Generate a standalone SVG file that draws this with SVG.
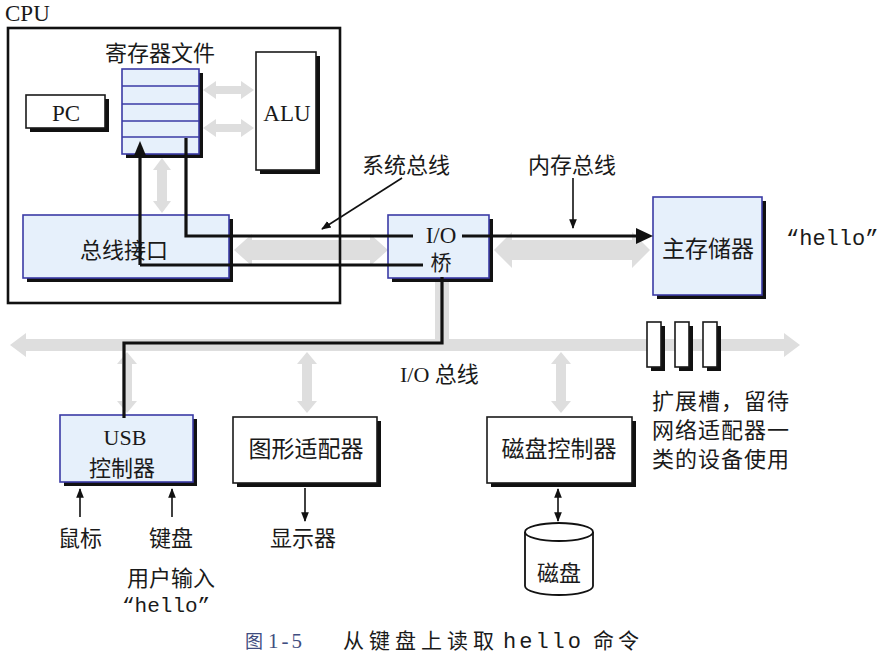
<svg xmlns="http://www.w3.org/2000/svg" width="889" height="664" viewBox="0 0 889 664">
<defs>
<style>
.cn{font-family:"Noto Sans CJK SC","Noto Sans",sans-serif;font-size:22px;fill:#1a1a1a;text-anchor:middle}
.lat{font-family:"Liberation Serif","DejaVu Serif",serif;font-size:23px;fill:#1a1a1a;text-anchor:middle}
.mono{font-family:"Liberation Mono","DejaVu Sans Mono",monospace;font-size:22px;fill:#1a1a1a}
.blue{fill:#e6f0fb;stroke:#3b3ba6;stroke-width:1.6}
.white{fill:#ffffff;stroke:#1a1a1a;stroke-width:1.6}
.shadow{fill:#111}
.gray{fill:#dedede;stroke:none}
.bl{fill:none;stroke:#111;stroke-width:3.2}
.thin{fill:none;stroke:#111;stroke-width:1.6}
</style>
<marker id="ahs" viewBox="0 0 10 10" refX="9" refY="5" markerWidth="6" markerHeight="6" orient="auto-start-reverse" markerUnits="strokeWidth">
<path d="M0,1 L10,5 L0,9 z" fill="#111"/>
</marker>
</defs>
<rect width="889" height="664" fill="#ffffff"/>

<!-- faded gray buses -->
<g id="gray-buses">
<polygon class="gray" points="203,90 216,81 216,86 241,86 241,81 254,90 241,99 241,94 216,94 216,99"/>
<polygon class="gray" points="203,128 216,119 216,124 241,124 241,119 254,128 241,137 241,132 216,132 216,137"/>
<polygon class="gray" points="162,158 171,170 167,170 167,201 171,201 162,213 153,201 157,201 157,170 153,170"/>
<polygon class="gray" points="234,250 252,234 252,240 370,240 370,234 388,250 370,266 370,260 252,260 252,266"/>
<polygon class="gray" points="494,250 512,232 512,240 632,240 632,232 650,250 632,268 632,260 512,260 512,268"/>
<polygon class="gray" points="10,345 26,333 26,339 784,339 784,333 800,345 784,357 784,351 26,351 26,357"/>
<rect class="gray" x="435" y="280" width="14" height="60"/>
<polygon class="gray" points="127,352 137,364 132,364 132,401 137,401 127,413 117,401 122,401 122,364 117,364"/>
<polygon class="gray" points="307,352 317,364 312,364 312,401 317,401 307,413 297,401 302,401 302,364 297,364"/>
<polygon class="gray" points="561,352 571,364 566,364 566,401 571,401 561,413 551,401 556,401 556,364 551,364"/>
</g>

<!-- CPU -->
<g id="cpu">
<text class="lat" x="5" y="21" style="text-anchor:start">CPU</text>
<rect x="8" y="28" width="332" height="275" fill="none" stroke="#111" stroke-width="2.6"/>
</g>

<g id="regfile">
<text class="cn" x="160" y="61">寄存器文件</text>
<rect class="shadow" x="126" y="73" width="77" height="85"/>
<rect class="blue" x="122" y="69" width="77" height="85"/>
<path d="M122,86 H199 M122,104 H199 M122,121 H199 M122,137 H199" stroke="#3b3ba6" stroke-width="1.6"/>
</g>

<g id="pc">
<rect class="shadow" x="30" y="99" width="79" height="33"/>
<rect class="white" x="26" y="95" width="79" height="33"/>
<text class="lat" x="66" y="121">PC</text>
</g>

<g id="alu">
<rect class="shadow" x="260" y="56" width="60" height="118"/>
<rect class="white" x="256" y="52" width="60" height="118"/>
<text class="lat" x="287" y="121">ALU</text>
</g>

<g id="bus-interface">
<rect class="shadow" x="27" y="219" width="206" height="63"/>
<rect class="blue" x="23" y="215" width="206" height="63"/>
<text class="cn" x="124" y="258">总线接口</text>
</g>

<g id="io-bridge">
<rect class="shadow" x="392" y="219" width="101" height="63"/>
<rect class="blue" x="388" y="215" width="101" height="63"/>
<text class="lat" x="441" y="243">I/O</text>
<text class="cn" x="441" y="270" style="font-size:21px">桥</text>
</g>

<g id="main-memory">
<rect class="shadow" x="657" y="201" width="109" height="98"/>
<rect class="blue" x="653" y="197" width="109" height="98"/>
<text class="cn" x="708" y="257" style="font-size:23px">主存储器</text>
<text class="mono" x="786" y="245">“hello”</text>
</g>

<g id="expansion-slots">
<rect class="shadow" x="651" y="326" width="14" height="45"/>
<rect class="white" x="647" y="322" width="14" height="45"/>
<rect class="shadow" x="679" y="326" width="14" height="45"/>
<rect class="white" x="675" y="322" width="14" height="45"/>
<rect class="shadow" x="707" y="326" width="14" height="45"/>
<rect class="white" x="703" y="322" width="14" height="45"/>
<text class="cn" x="652" y="409" style="text-anchor:start;letter-spacing:1px">扩展槽，留待</text>
<text class="cn" x="652" y="438" style="text-anchor:start;letter-spacing:1px">网络适配器一</text>
<text class="cn" x="652" y="467" style="text-anchor:start;letter-spacing:1px">类的设备使用</text>
</g>

<g id="labels">
<text class="cn" x="406" y="173">系统总线</text>
<text class="cn" x="572" y="173">内存总线</text>
<text class="lat" x="400" y="382" style="text-anchor:start;font-size:22px">I/O <tspan style="font-family:'Noto Sans CJK SC',sans-serif;font-size:22px">总线</tspan></text>
</g>

<g id="usb">
<rect class="shadow" x="64" y="419" width="133" height="67"/>
<rect class="blue" x="60" y="415" width="133" height="67"/>
<text class="lat" x="125" y="445" style="font-size:22px">USB</text>
<text class="cn" x="122" y="476">控制器</text>
</g>

<g id="graphics">
<rect class="shadow" x="237" y="421" width="144" height="66"/>
<rect class="white" x="233" y="417" width="144" height="66"/>
<text class="cn" x="306" y="457" style="font-size:23px">图形适配器</text>
</g>

<g id="disk-controller">
<rect class="shadow" x="491" y="421" width="145" height="66"/>
<rect class="white" x="487" y="417" width="145" height="66"/>
<text class="cn" x="559" y="457" style="font-size:23px">磁盘控制器</text>
</g>

<g id="disk">
<path d="M525,532 V586 A34,9 0 0 0 593,586 V532" fill="#fff" stroke="#111" stroke-width="1.8"/>
<ellipse cx="559" cy="532" rx="34" ry="9" fill="#fff" stroke="#111" stroke-width="1.8"/>
<text class="cn" x="559" y="581">磁盘</text>
</g>

<g id="devices">
<text class="cn" x="80" y="546">鼠标</text>
<text class="cn" x="171" y="546">键盘</text>
<text class="cn" x="303" y="546">显示器</text>
<text class="cn" x="171" y="586">用户输入</text>
<text class="mono" x="122" y="612" style="font-size:21px">“hello”</text>
</g>

<g id="connectors">
<path class="bl" d="M140,265 V156"/>
<polygon points="140,141 133,158 147,158" fill="#111"/>
<path class="bl" d="M140,265 H423"/>
<path class="bl" d="M186,138 V236 H413"/>
<path class="bl" d="M462,236 H638"/>
<polygon points="653,236 636,228 636,244" fill="#111"/>
<path class="bl" d="M442,277 V343 H124 V418"/>
<path class="thin" d="M402,178 L322,229" marker-end="url(#ahs)"/>
<path class="thin" d="M573,178 V228" marker-end="url(#ahs)"/>
<path class="thin" d="M80,517 V489" marker-end="url(#ahs)"/>
<path class="thin" d="M172,517 V489" marker-end="url(#ahs)"/>
<path class="thin" d="M305,488 V521" marker-end="url(#ahs)"/>
<path class="thin" d="M558,489 V521" marker-start="url(#ahs)" marker-end="url(#ahs)"/>
</g>

<g id="caption">
<text x="245" y="648" style="font-family:'Noto Sans CJK SC',sans-serif;font-size:18px;fill:#3f4d80">图</text>
<text x="268" y="648" style="font-family:'Liberation Serif',serif;font-size:21px;letter-spacing:3px;fill:#3f4d80">1-5</text>
<text x="343" y="648" style="font-family:'Noto Sans CJK SC',sans-serif;font-size:21px;letter-spacing:5px;fill:#1a1a1a">从键盘上读取</text>
<text x="503" y="648" style="font-family:'Liberation Mono',monospace;font-size:22px;letter-spacing:3px;fill:#1a1a1a">hello</text>
<text x="593" y="648" style="font-family:'Noto Sans CJK SC',sans-serif;font-size:21px;letter-spacing:4px;fill:#1a1a1a">命令</text>
</g>
</svg>
